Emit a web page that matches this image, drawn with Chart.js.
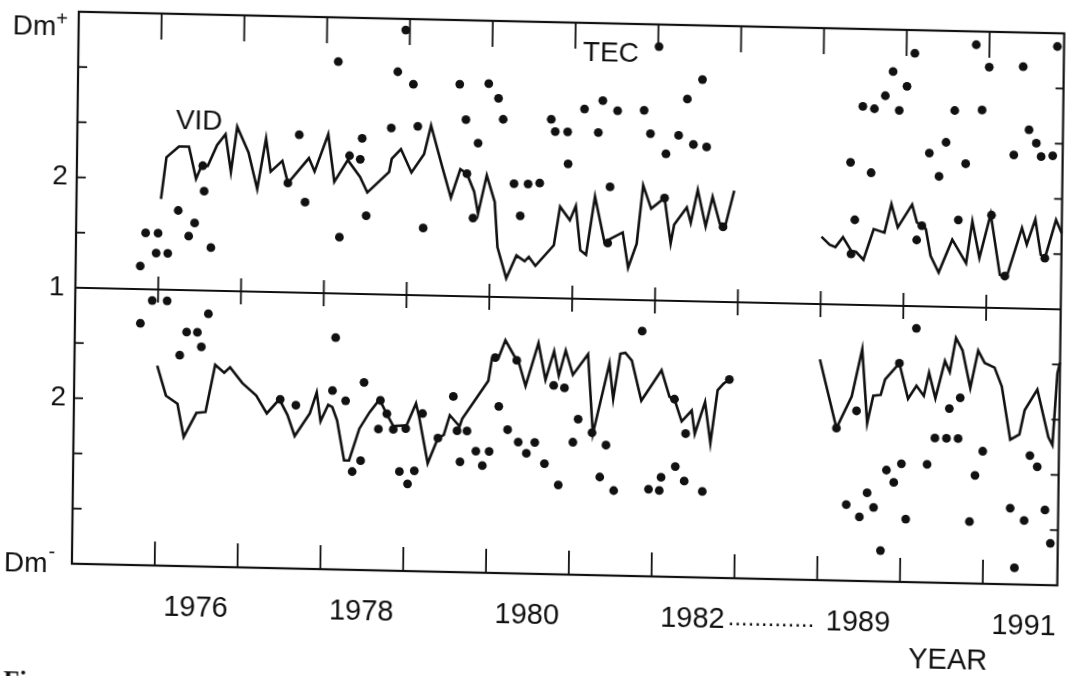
<!DOCTYPE html>
<html>
<head>
<meta charset="utf-8">
<title>VID / TEC</title>
<script src="https://cdn.jsdelivr.net/npm/chart.js@4.4.1/dist/chart.umd.min.js"></script>
<style>
  html, body { margin: 0; padding: 0; background: #fff; overflow: hidden; }
  #wrap { width: 1069px; height: 676px; overflow: hidden; }
  /* the source is a slightly skewed scan: same skew on the canvas */
  #fig { display: block; transform-origin: 0 0; transform: matrix(1, 0.022, -0.0126, 1, 0, 0); }
</style>
</head>
<body>
<div id="wrap"><canvas id="fig" width="1069" height="676"></canvas></div>
<script>
// Dm+ panel (upper) and Dm- panel (lower), ratio values.
const vidUpYears = [
  1976.02, 1976.08, 1976.23, 1976.35, 1976.44, 1976.50, 1976.58, 1976.69, 1976.79, 1976.86, 1976.93,
  1977.07, 1977.18, 1977.28, 1977.34, 1977.48, 1977.55, 1977.80, 1977.87,
  1978.03, 1978.11, 1978.27, 1978.42, 1978.51, 1978.77, 1978.80, 1978.91,
  1979.04, 1979.19, 1979.27, 1979.41, 1979.52, 1979.63, 1979.71, 1979.80, 1979.85, 1979.95,
  1980.05, 1980.09, 1980.20, 1980.32, 1980.42, 1980.47, 1980.55, 1980.77, 1980.84, 1980.96,
  1981.03, 1981.09, 1981.16, 1981.26, 1981.38, 1981.60, 1981.67, 1981.77, 1981.84, 1981.94,
  1982.10, 1982.18, 1982.22, 1982.37, 1982.42, 1982.50, 1982.60, 1982.68, 1982.77, 1982.84, 1982.94,
  1989.00, 1989.10, 1989.17, 1989.26, 1989.36, 1989.42, 1989.51, 1989.63, 1989.76, 1989.84, 1989.92,
  1990.09, 1990.15, 1990.21, 1990.26, 1990.32, 1990.42, 1990.58, 1990.75, 1990.82, 1990.91,
  1991.04, 1991.16, 1991.24, 1991.42, 1991.48, 1991.58, 1991.65, 1991.70, 1991.83, 1991.90
];
const vidUpValues = [
  1.82, 2.20, 2.30, 2.30, 2.01, 2.12, 2.13, 2.32, 2.42, 2.08, 2.49,
  2.26, 1.93, 2.39, 2.09, 2.19, 1.99, 2.22, 2.10,
  2.44, 2.01, 2.21, 2.06, 1.92, 2.11, 2.23, 2.32,
  2.11, 2.28, 2.54, 2.17, 1.89, 2.15, 2.11, 1.95, 1.75, 2.10,
  1.86, 1.45, 1.17, 1.38, 1.33, 1.37, 1.29, 1.48, 1.83, 1.71,
  1.84, 1.44, 1.40, 1.93, 1.52, 1.61, 1.29, 1.51, 2.04, 1.83,
  1.93, 1.52, 1.69, 1.85, 1.71, 2.01, 1.68, 1.95, 1.71, 1.70, 2.01,
  1.61, 1.54, 1.52, 1.61, 1.49, 1.48, 1.41, 1.69, 1.66, 1.92, 1.71,
  1.92, 1.76, 1.73, 1.70, 1.46, 1.31, 1.61, 1.40, 1.78, 1.45,
  1.85, 1.30, 1.28, 1.73, 1.58, 1.81, 1.49, 1.46, 1.81, 1.69
];

const tecUpYears = [
  1975.78, 1975.84, 1975.97, 1975.99, 1976.11, 1976.23, 1976.36, 1976.43, 1976.52, 1976.54, 1976.63,
  1977.55, 1977.68, 1977.76, 1978.14, 1978.18, 1978.29, 1978.42, 1978.44, 1978.50, 1978.79, 1978.86, 1978.95,
  1979.05, 1979.11, 1979.19, 1979.61, 1979.69, 1979.71, 1979.79, 1979.84, 1979.96,
  1980.08, 1980.14, 1980.28, 1980.36, 1980.45, 1980.59, 1980.72, 1980.77, 1980.92, 1980.93,
  1981.12, 1981.29, 1981.34, 1981.42, 1981.44, 1981.52, 1981.84, 1981.92,
  1982.01, 1982.10, 1982.11, 1982.26, 1982.36, 1982.44, 1982.54, 1982.60, 1982.81,
  1989.34, 1989.36, 1989.40, 1989.48, 1989.59, 1989.62, 1989.75, 1989.84, 1989.92,
  1990.01, 1990.10, 1990.15, 1990.21, 1990.29, 1990.41, 1990.49, 1990.59, 1990.65, 1990.73, 1990.84, 1990.92,
  1991.00, 1991.05, 1991.22, 1991.31, 1991.41, 1991.49, 1991.58, 1991.64, 1991.70, 1991.78, 1991.82
];
const tecUpValues = [
  1.21, 1.51, 1.33, 1.51, 1.33, 1.72, 1.49, 1.61, 2.13, 1.90, 1.39,
  1.99, 2.43, 1.82, 3.10, 1.51, 2.25, 2.22, 2.41, 1.71, 2.51, 3.02, 3.40,
  2.91, 2.53, 1.61, 2.92, 2.60, 2.11, 1.71, 2.39, 2.93,
  2.80, 2.61, 2.03, 1.74, 2.03, 2.04, 2.62, 2.51, 2.51, 2.22,
  2.72, 2.51, 2.80, 1.51, 2.02, 2.71, 2.72, 2.51,
  3.30, 1.93, 2.33, 2.50, 2.83, 2.42, 3.01, 2.40, 1.68,
  2.29, 1.46, 1.77, 2.80, 2.20, 2.78, 2.90, 3.12, 2.77,
  2.99, 3.29, 1.60, 1.73, 2.39, 2.18, 2.49, 2.78, 1.79, 2.30, 3.38, 2.79,
  3.18, 1.84, 1.29, 2.39, 3.19, 2.62, 2.50, 2.38, 1.46, 2.39, 3.38
];

const vidLowYears = [
  1976.00, 1976.11, 1976.25, 1976.33, 1976.48, 1976.59, 1976.70, 1976.81, 1976.88,
  1977.03, 1977.20, 1977.33, 1977.48, 1977.58, 1977.67, 1977.85, 1977.93, 1977.98,
  1978.07, 1978.12, 1978.18, 1978.27, 1978.33, 1978.45, 1978.57, 1978.69, 1978.77, 1978.86,
  1979.02, 1979.13, 1979.17, 1979.28, 1979.40, 1979.47, 1979.54, 1979.66, 1979.69,
  1980.00, 1980.04, 1980.12, 1980.20, 1980.34, 1980.37, 1980.45, 1980.60, 1980.69, 1980.79, 1980.85, 1980.93,
  1981.02, 1981.20, 1981.27, 1981.46, 1981.51, 1981.59, 1981.65, 1981.73, 1981.85,
  1982.09, 1982.19, 1982.25, 1982.34, 1982.46, 1982.50, 1982.62, 1982.69, 1982.77, 1982.84, 1982.91,
  1989.00, 1989.21, 1989.39, 1989.51, 1989.58, 1989.65, 1989.74, 1989.79, 1989.96,
  1990.07, 1990.17, 1990.26, 1990.32, 1990.40, 1990.51, 1990.57, 1990.64, 1990.72, 1990.82, 1990.91, 1990.99,
  1991.11, 1991.20, 1991.31, 1991.42, 1991.48, 1991.63, 1991.77, 1991.82, 1991.87, 1991.90
];
const vidLowValues = [
  1.69, 1.96, 2.03, 2.33, 2.11, 2.10, 1.67, 1.74, 1.69,
  1.83, 1.94, 2.10, 1.97, 2.11, 2.30, 2.09, 1.90, 2.16,
  2.01, 2.03, 2.15, 2.51, 2.51, 2.22, 2.07, 1.95, 2.07, 2.19,
  2.18, 1.98, 2.10, 2.52, 2.29, 2.26, 2.08, 2.18, 2.11,
  1.76, 1.56, 1.55, 1.39, 1.57, 1.60, 1.80, 1.41, 1.74, 1.48, 1.70, 1.47,
  1.69, 1.50, 2.22, 1.58, 1.90, 1.49, 1.48, 1.55, 1.91,
  1.63, 1.87, 1.89, 2.09, 1.99, 2.20, 1.91, 2.28, 1.80, 1.74, 1.70,
  1.50, 2.12, 1.83, 1.40, 2.07, 1.82, 1.81, 1.67, 1.52,
  1.84, 1.72, 1.81, 1.60, 1.83, 1.49, 1.59, 1.28, 1.39, 1.73, 1.39, 1.50,
  1.54, 1.71, 2.19, 2.14, 1.92, 1.73, 2.16, 2.23, 1.58, 1.48
];

const tecLowYears = [
  1975.79, 1975.93, 1976.11, 1976.27, 1976.35, 1976.48, 1976.53, 1976.61,
  1977.49, 1977.68, 1978.12, 1978.15, 1978.28, 1978.37, 1978.47, 1978.50, 1978.68, 1978.70, 1978.78, 1978.86, 1978.94,
  1979.01, 1979.04, 1979.12, 1979.21, 1979.40, 1979.58, 1979.63, 1979.67, 1979.75, 1979.86, 1979.94,
  1980.02, 1980.08, 1980.13, 1980.24, 1980.34, 1980.37, 1980.47, 1980.57, 1980.69, 1980.79, 1980.86, 1980.92,
  1981.03, 1981.09, 1981.26, 1981.36, 1981.43, 1981.53, 1981.85, 1981.95,
  1982.08, 1982.10, 1982.25, 1982.27, 1982.38, 1982.39, 1982.60, 1982.91,
  1989.21, 1989.34, 1989.45, 1989.50, 1989.59, 1989.67, 1989.76, 1989.82, 1989.91, 1989.96,
  1990.00, 1990.06, 1990.16, 1990.31, 1990.40, 1990.54, 1990.57, 1990.68, 1990.70, 1990.83, 1990.89, 1990.98,
  1991.32, 1991.38, 1991.49, 1991.55, 1991.64, 1991.74, 1991.81
];
const tecLowValues = [
  1.31, 1.10, 1.10, 1.59, 1.38, 1.38, 1.51, 1.21,
  1.97, 2.02, 1.88, 1.40, 1.97, 2.61, 2.51, 1.80, 2.22, 1.96, 2.08, 2.22, 2.60,
  2.21, 2.71, 2.59, 2.07, 2.29, 1.91, 2.22, 2.50, 2.22, 2.40, 2.53,
  2.40, 1.55, 1.99, 2.20, 1.57, 2.31, 2.41, 2.31, 2.50, 1.79, 2.69, 1.81,
  2.30, 2.09, 2.21, 2.61, 2.32, 2.73, 1.28, 2.71,
  2.72, 2.60, 1.89, 2.50, 2.63, 2.20, 2.72, 1.70,
  2.12, 2.81, 1.96, 2.92, 2.70, 2.83, 3.22, 2.49, 2.60, 1.52,
  2.43, 2.93, 1.20, 2.43, 2.19, 2.19, 1.92, 2.19, 1.82, 2.94, 2.52, 2.30,
  2.81, 3.35, 2.92, 2.33, 2.43, 2.82, 3.12
];

// axis furniture
const tickYears = [1976, 1977, 1978, 1979, 1980, 1981, 1982, 1983, 1989, 1990, 1991];
const yearLabels = ['1976', '1978', '1980', '1982', '1989', '1991'];
const valueTicks = [1.5, 2, 2.5, 3];

const INK = '#111';
const FONT = '"Liberation Sans", Arial, Helvetica, sans-serif';

// 1983..1988 is cut out of the time axis (one blank interval stands for it)
const pos = (yr) => (yr < 1985 ? yr - 1975 : yr - 1980);
const up = (v) => v - 1;
const down = (v) => 1 - v;

function series(years, values, f) {
  const out = [];
  years.forEach((yr, i) => {
    const p = { x: pos(yr), y: f(values[i]) };
    if (out.length && p.x - out[out.length - 1].x > 0.5) out.push({ x: p.x - 0.5, y: null });
    out.push(p);
  });
  return out;
}

const lineDs = (data) => ({
  data, showLine: true, borderColor: INK, borderWidth: 2.6, pointRadius: 0, spanGaps: false, clip: false,
});
const dotDs = (data) => ({
  data, showLine: false, backgroundColor: INK, borderColor: INK, borderWidth: 0, pointRadius: 4.4, clip: false,
});

const frame = {
  id: 'frame',
  beforeDatasetsDraw(chart) {
    const { ctx, chartArea: a, scales: { x, y } } = chart;
    const seg = (x1, y1, x2, y2) => { ctx.beginPath(); ctx.moveTo(x1, y1); ctx.lineTo(x2, y2); ctx.stroke(); };
    ctx.save();
    ctx.strokeStyle = INK;
    ctx.lineWidth = 2.2;
    ctx.strokeRect(a.left, a.top, a.right - a.left, a.bottom - a.top);
    const y0 = y.getPixelForValue(0);
    seg(a.left, y0, a.right, y0);

    ctx.lineWidth = 1.8;
    tickYears.forEach((yr) => {
      const px = x.getPixelForValue(pos(yr));
      seg(px, a.top, px, a.top + 26);
      seg(px, y0 - 13, px, y0 + 13);
      seg(px, a.bottom - 24, px, a.bottom);
    });
    valueTicks.forEach((v) => {
      [up(v), down(v)].forEach((d) => {
        const py = y.getPixelForValue(d);
        seg(a.left, py, a.left + 9, py);
        seg(a.right - 8, py, a.right, py);
      });
    });

    ctx.fillStyle = INK;
    ctx.textBaseline = 'middle';
    ctx.font = '28px ' + FONT;
    ctx.textAlign = 'right';
    ctx.fillText('2', a.left - 9, y.getPixelForValue(up(2)));
    ctx.fillText('1', a.left - 11, y0);
    ctx.fillText('2', a.left - 8, y.getPixelForValue(down(2)));

    ctx.textAlign = 'left';
    ctx.fillText('Dm', 13, a.top + 16);
    const w = ctx.measureText('Dm').width;
    ctx.fillText('Dm', 11, a.bottom + 1);
    ctx.font = '20px ' + FONT;
    ctx.fillText('+', 13 + w, a.top + 8);
    ctx.fillText('-', 11 + w + 1, a.bottom - 11);

    ctx.font = '28px ' + FONT;
    ctx.textAlign = 'center';
    ctx.fillText('VID', x.getPixelForValue(pos(1976.47)), y.getPixelForValue(up(2.53)));
    ctx.fillText('TEC', x.getPixelForValue(pos(1981.43)), y.getPixelForValue(up(3.23)));

    ctx.font = '29px ' + FONT;
    const ly = a.bottom + 42;
    yearLabels.forEach((t) => ctx.fillText(t, x.getPixelForValue(pos(+t) + 0.5), ly));
    ctx.font = '24px ' + FONT;
    ctx.fillText('.............', x.getPixelForValue(8.45), ly - 2);
    ctx.font = '29px ' + FONT;
    ctx.fillText('YEAR', 956, ly + 36);

    ctx.textAlign = 'left';
    ctx.textBaseline = 'alphabetic';
    ctx.font = 'bold 26px "Liberation Serif", "Times New Roman", serif';
    ctx.fillText('Fig.', 12, a.bottom + 126);
    ctx.restore();
  },
};

new Chart(document.getElementById('fig'), {
  type: 'scatter',
  data: {
    datasets: [
      lineDs(series(vidUpYears, vidUpValues, up)),
      lineDs(series(vidLowYears, vidLowValues, down)),
      dotDs(series(tecUpYears, tecUpValues, up)),
      dotDs(series(tecLowYears, tecLowValues, down)),
    ],
  },
  options: {
    responsive: false,
    animation: false,
    devicePixelRatio: 1,
    layout: { padding: { left: 79, right: 2, top: 10, bottom: 114 } },
    elements: { line: { tension: 0 } },
    plugins: { legend: { display: false }, tooltip: { enabled: false } },
    scales: {
      x: { type: 'linear', display: false, min: 0, max: 11.9 },
      y: { type: 'linear', display: false, min: -2.5, max: 2.5 },
    },
  },
  plugins: [frame],
});
</script>
</body>
</html>
